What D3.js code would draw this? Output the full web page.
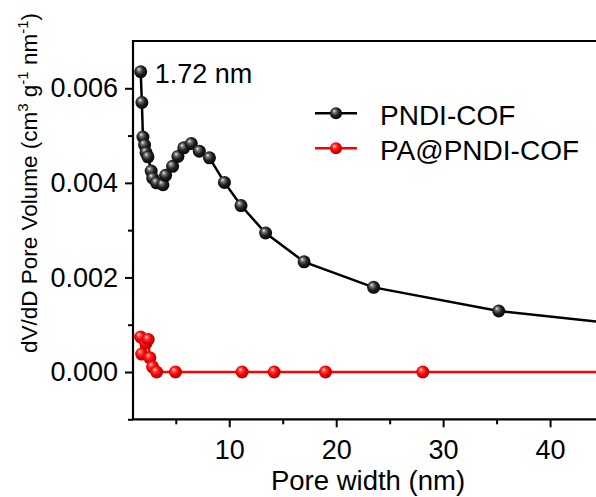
<!DOCTYPE html>
<html>
<head>
<meta charset="utf-8">
<script src="https://cdn.jsdelivr.net/npm/d3@7"></script>
<style>
  html, body { margin: 0; padding: 0; background: #fff; }
  svg { display: block; font-family: "Liberation Sans", Arial, sans-serif; }
</style>
</head>
<body>
<svg id="chart" width="596" height="497"></svg>
<script>
// Pore size distribution (dV/dD) for the two frameworks
const seriesNames = ["PNDI-COF", "PA@PNDI-COF"];

const pndiWidth = [1.72, 1.83, 1.93, 2.08, 2.22, 2.40, 2.70, 2.85, 3.20, 3.80, 4.05, 4.70, 5.20, 5.75, 6.45, 7.20, 8.15, 9.55, 11.1, 13.4, 17.0, 23.5, 35.2, 52.0];
const pndiVolume = [0.00635, 0.00570, 0.00497, 0.00480, 0.00464, 0.00455, 0.00425, 0.00410, 0.00400, 0.00396, 0.00416, 0.00435, 0.00456, 0.00474, 0.00483, 0.00467, 0.00453, 0.00401, 0.00352, 0.00294, 0.00233, 0.00179, 0.00129, 0.00088];

const paWidth = [1.71, 1.81, 2.21, 2.42, 2.58, 2.83, 3.21, 4.97, 11.2, 14.2, 19.0, 28.1, 52.0];
const paVolume = [0.00074, 0.00038, 0.00061, 0.00069, 0.00030, 0.00011, 0.0, 0.0, 0.0, 0.0, 0.0, 0.0, 0.0];

const xMajorTicks = [10, 20, 30, 40];
const xMinorTicks = [5, 15, 25, 35, 45];
const yMajorTicks = [0, 0.002, 0.004, 0.006];
const yMinorTicks = [-0.001, 0.001, 0.003, 0.005];

const peakLabel = "1.72 nm";
const peakWidth = 1.72;

const svg = d3.select("#chart");

const x = d3.scaleLinear().domain([1, 50]).range([133, 657]);
const y = d3.scaleLinear().domain([-0.001, 0.007]).range([419.3, 41]);

// glossy sphere fills for the markers
const defs = svg.append("defs");
function sphere(id, stops) {
  const g = defs.append("radialGradient").attr("id", id)
    .attr("cx", "0.45").attr("cy", "0.45").attr("r", "0.6")
    .attr("fx", "0.35").attr("fy", "0.3");
  stops.forEach(s => g.append("stop").attr("offset", s[0]).attr("stop-color", s[1]));
}
sphere("ballBlack", [["0%", "#f0f0f0"], ["22%", "#7a7a7a"], ["55%", "#222"], ["100%", "#000"]]);
sphere("ballRed", [["0%", "#ffe0e0"], ["25%", "#ff4040"], ["60%", "#f00000"], ["100%", "#b00000"]]);

const clip = defs.append("clipPath").attr("id", "plotClip");
clip.append("rect").attr("x", 133).attr("y", 41).attr("width", 600).attr("height", 378.3);

const series = [
  { name: seriesNames[0], xs: pndiWidth, ys: pndiVolume, color: "#000", fill: "url(#ballBlack)" },
  { name: seriesNames[1], xs: paWidth, ys: paVolume, color: "#ff0000", fill: "url(#ballRed)" }
];

const line = d3.line().x(d => x(d[0])).y(d => y(d[1]));
const plot = svg.append("g").attr("clip-path", "url(#plotClip)");

// draw red first so the black curve stays on top
[series[1], series[0]].forEach(s => {
  const pts = s.xs.map((v, i) => [v, s.ys[i]]);
  plot.append("path").datum(pts)
    .attr("fill", "none").attr("stroke", s.color).attr("stroke-width", 2.5)
    .attr("d", line);
  plot.selectAll(null).data(pts).enter().append("circle")
    .attr("cx", d => x(d[0])).attr("cy", d => y(d[1])).attr("r", 6.5)
    .attr("fill", s.fill);
});

// axes
const axisColor = "#000";
const xAxisMajor = d3.axisBottom(x).tickValues(xMajorTicks).tickSize(8).tickPadding(13).tickFormat(d3.format("d"));
const xAxisMinor = d3.axisBottom(x).tickValues(xMinorTicks).tickSize(5).tickFormat("");
const yAxisMajor = d3.axisLeft(y).tickValues(yMajorTicks).tickSize(8).tickPadding(7).tickFormat(d3.format(".3f"));
const yAxisMinor = d3.axisLeft(y).tickValues(yMinorTicks).tickSize(5).tickFormat("");

function styleAxis(g) {
  g.select(".domain").remove();
  g.selectAll(".tick line").attr("stroke", axisColor).attr("stroke-width", 2);
  g.selectAll(".tick text").attr("fill", "#000").attr("font-size", 27)
    .attr("font-family", "'Liberation Sans', Arial, sans-serif");
}

svg.append("g").attr("transform", "translate(0,419.3)").call(xAxisMinor).call(styleAxis);
svg.append("g").attr("transform", "translate(0,419.3)").call(xAxisMajor).call(styleAxis);
svg.append("g").attr("transform", "translate(133,0)").call(yAxisMinor).call(styleAxis);
svg.append("g").attr("transform", "translate(133,0)").call(yAxisMajor).call(styleAxis);

// frame: left, bottom and top edges
svg.append("path")
  .attr("d", `M${x.range()[1]},41H133V419.3H${x.range()[1]}`)
  .attr("fill", "none").attr("stroke", axisColor).attr("stroke-width", 2.2);

// axis titles
svg.append("text")
  .attr("x", 368).attr("y", 490)
  .attr("text-anchor", "middle").attr("font-size", 27.5).attr("fill", "#000")
  .text("Pore width (nm)");

const yt = svg.append("text")
  .attr("transform", "translate(37,183) rotate(-90)")
  .attr("text-anchor", "middle").attr("font-size", 22.5).attr("fill", "#000");
yt.append("tspan").text("dV/dD Pore Volume (cm");
yt.append("tspan").attr("font-size", 15).attr("dy", -9).text("3");
yt.append("tspan").attr("dy", 9).text(" g");
yt.append("tspan").attr("font-size", 15).attr("dy", -9).text("-1");
yt.append("tspan").attr("dy", 9).text(" nm");
yt.append("tspan").attr("font-size", 15).attr("dy", -9).text("-1");
yt.append("tspan").attr("dy", 9).text(")");

// peak annotation
svg.append("text")
  .attr("x", x(peakWidth) + 14).attr("y", 82.5)
  .attr("font-size", 27).attr("fill", "#000")
  .text(peakLabel);

// legend
const legend = svg.append("g");
series.forEach((s, i) => {
  const ly = 113.3 + i * 35;
  legend.append("line").attr("x1", 315).attr("x2", 357).attr("y1", ly).attr("y2", ly)
    .attr("stroke", s.color).attr("stroke-width", 2.5);
  legend.append("circle").attr("cx", 336).attr("cy", ly).attr("r", 6).attr("fill", s.fill);
  legend.append("text").attr("x", 380).attr("y", ly + 11.5)
    .attr("font-size", 28).attr("fill", "#000").text(s.name);
});
</script>
</body>
</html>
